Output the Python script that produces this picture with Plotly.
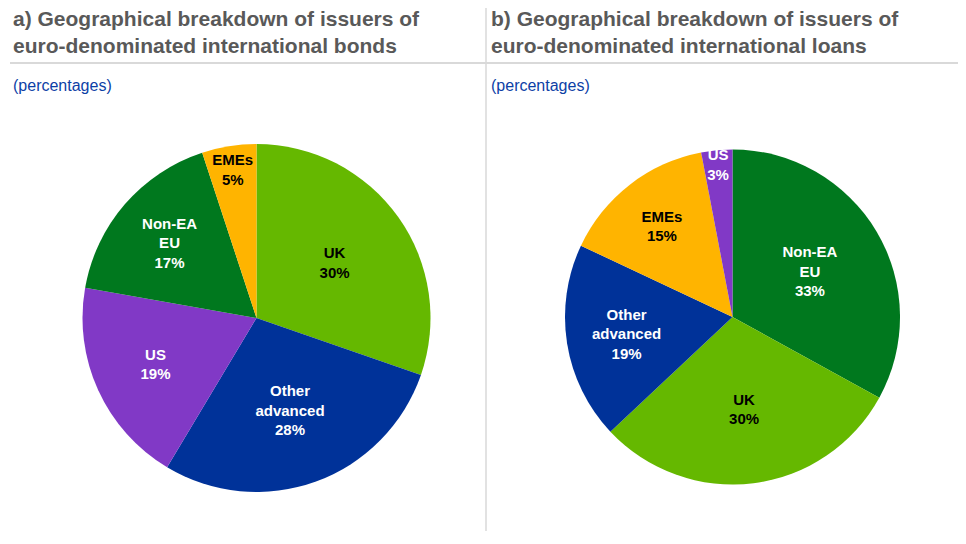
import plotly.graph_objs as go

# panel a) bonds
bond_labels = ['UK', 'Other advanced', 'US', 'Non-EA EU', 'EMEs']
bond_text = ['UK', 'Other<br>advanced', 'US', 'Non-EA<br>EU', 'EMEs']
bond_values = [30, 28, 19, 17, 5]

# panel b) loans
loan_labels = ['Non-EA EU', 'UK', 'Other advanced', 'EMEs', 'US']
loan_text = ['Non-EA<br>EU', 'UK', 'Other<br>advanced', 'EMEs', 'US']
loan_values = [33, 30, 19, 15, 3]

colours = {'UK': '#65B800', 'Other advanced': '#003299', 'US': '#8139C6',
           'Non-EA EU': '#00781E', 'EMEs': '#FFB400'}
text_col = {'UK': 'black', 'EMEs': 'black', 'Other advanced': 'white',
            'US': 'white', 'Non-EA EU': 'white'}

W, H = 966, 544
OFF = 8  # page body margin


# screen pixel -> paper coords
def px(x):
    return (x - OFF) / W


def py(y):
    return 1 - (y - OFF) / H


def pie(labels, text, values, xdom, ydom):
    return go.Pie(labels=labels, values=values, sort=False, direction='clockwise',
                  text=['<b>' + t + '<br>%d%%</b>' % v for t, v in zip(text, values)],
                  textinfo='text', textposition='inside',
                  insidetextorientation='horizontal',
                  marker=dict(colors=[colours[l] for l in labels],
                              line=dict(color='white', width=0)),
                  insidetextfont=dict(family='Liberation Sans', size=15,
                                      color=[text_col[l] for l in labels]),
                  domain=dict(x=xdom, y=ydom), showlegend=False, hoverinfo='label+value')


trace = [pie(bond_labels, bond_text, bond_values, [px(82), px(431)], [py(492), py(144)]),
         pie(loan_labels, loan_text, loan_values, [px(565), px(900)], [py(486), py(148)])]

title_font = dict(family='Liberation Sans', size=21, color='#595959')
sub_font = dict(family='Liberation Sans', size=16, color='#0D3FA6')

annotations = [
    dict(text='<b>a) Geographical breakdown of issuers of<br>euro-denominated international bonds</b>',
         x=px(11), y=py(5), xanchor='left', yanchor='top', align='left', font=title_font),
    dict(text='<b>b) Geographical breakdown of issuers of<br>euro-denominated international loans</b>',
         x=px(489), y=py(5), xanchor='left', yanchor='top', align='left', font=title_font),
    dict(text='(percentages)', x=px(11), y=py(85), xanchor='left', yanchor='middle', font=sub_font),
    dict(text='(percentages)', x=px(489), y=py(85), xanchor='left', yanchor='middle', font=sub_font),
]
for a in annotations:
    a.update(xref='paper', yref='paper', showarrow=False)

shapes = [
    dict(type='line', xref='paper', yref='paper', x0=px(10), x1=px(963), y0=py(63), y1=py(63),
         line=dict(color='#D9D9D9', width=2)),
    dict(type='line', xref='paper', yref='paper', x0=px(486), x1=px(486), y0=py(531), y1=py(0),
         line=dict(color='#D9D9D9', width=1.5)),
]

layout = go.Layout(width=W, height=H, margin=dict(l=0, r=0, t=0, b=0),
                   paper_bgcolor='white', plot_bgcolor='white',
                   annotations=annotations, shapes=shapes,
                   uniformtext=dict(minsize=15, mode='show'),
                   font=dict(family='Liberation Sans'))

fig = go.Figure(data=trace, layout=layout)
fig.write_html('out.html')
